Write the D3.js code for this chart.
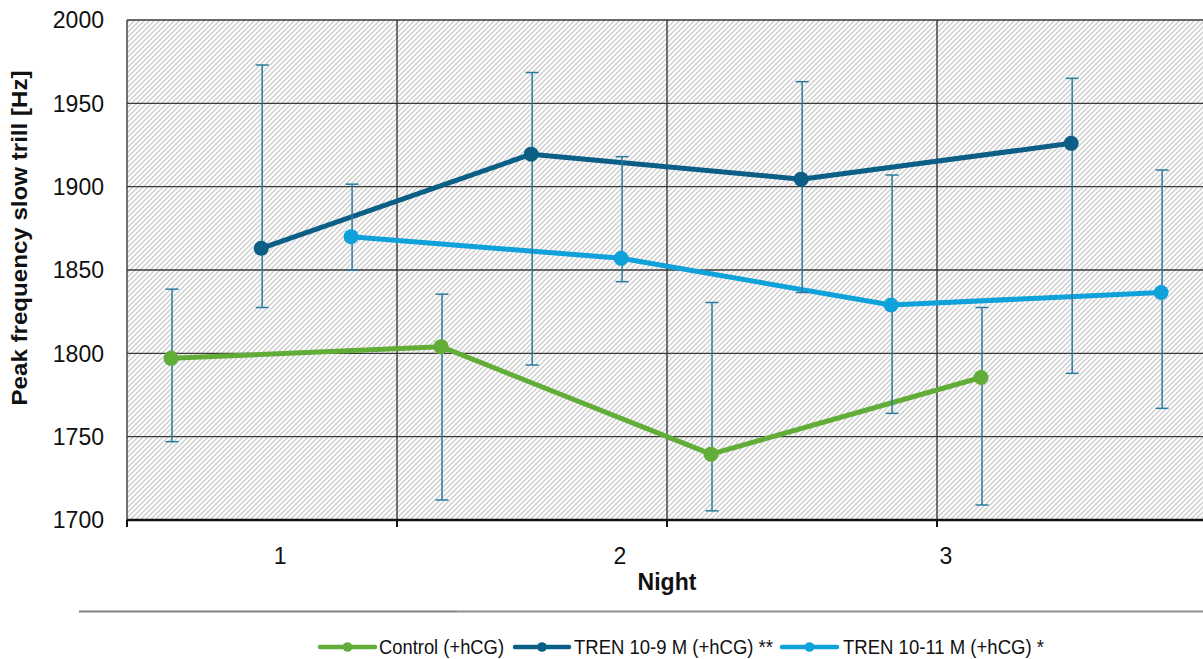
<!DOCTYPE html>
<html>
<head>
<meta charset="utf-8">
<script src="https://cdn.jsdelivr.net/npm/d3@7"></script>
<style>
  html, body { margin: 0; padding: 0; background: #fff; }
  svg { display: block; }
  text { font-family: "Liberation Sans", Arial, sans-serif; fill: #111; }
</style>
</head>
<body>
<svg id="chart" width="1203" height="659"></svg>
<script>
// ---- data ----
const seriesNames = ["Control (+hCG)", "TREN 10-9 M (+hCG) **", "TREN 10-11 M (+hCG) *"];
const seriesColors = ["#62ad38", "#0b5e85", "#0ea1da"];
const nights = [1, 2, 3, 4];
// position of each series inside a night's slot (fraction of slot width)
const seriesSlot = [0.163, 0.497, 0.83];

const controlMean = [1797, 1804, 1739.5, 1785.5];
const controlHi   = [1838.5, 1835.5, 1830.5, 1827.5];
const controlLo   = [1747, 1712, 1705.5, 1709];

const tren9Mean = [1863, 1919.5, 1904.5, 1926];
const tren9Hi   = [1973, 1968.5, 1963, 1965];
const tren9Lo   = [1827.5, 1793, 1836.5, 1788];

const tren11Mean = [1870, 1857, 1829, 1836.5];
const tren11Hi   = [1901.5, 1918, 1907, 1910];
const tren11Lo   = [1850, 1843, 1764, 1767];

const yTicks = [1700, 1750, 1800, 1850, 1900, 1950, 2000];
const xTickLabels = ["1", "2", "3"];
const xTickLabelPos = [0.567, 1.826, 3.033]; // in night-slot units
const xTitle = "Night";
const yTitle = "Peak frequency slow trill [Hz]";

// ---- build ----
const series = [
  { name: seriesNames[0], color: seriesColors[0], slot: seriesSlot[0], mean: controlMean, hi: controlHi, lo: controlLo },
  { name: seriesNames[1], color: seriesColors[1], slot: seriesSlot[1], mean: tren9Mean, hi: tren9Hi, lo: tren9Lo },
  { name: seriesNames[2], color: seriesColors[2], slot: seriesSlot[2], mean: tren11Mean, hi: tren11Hi, lo: tren11Lo }
];

const svg = d3.select("#chart");
const W = 1203, H = 659;
const plot = { left: 127, top: 20, right: 1207, bottom: 520 };

const x = d3.scaleLinear().domain([0, nights.length]).range([plot.left, plot.right]);
const y = d3.scaleLinear().domain([1700, 2000]).range([plot.bottom, plot.top]);

const defs = svg.append("defs");
const pat = defs.append("pattern")
  .attr("id", "hatch").attr("patternUnits", "userSpaceOnUse")
  .attr("width", 5).attr("height", 5);
pat.append("rect").attr("width", 5).attr("height", 5).attr("fill", "#fff");
pat.append("path")
  .attr("d", "M-1,1 L1,-1 M0,5 L5,0 M4,6 L6,4")
  .attr("stroke", "#cfcfcf").attr("stroke-width", 1.5);

svg.append("rect").attr("width", W).attr("height", H).attr("fill", "#fff");

// plot background
svg.append("rect")
  .attr("x", plot.left).attr("y", plot.top)
  .attr("width", plot.right - plot.left).attr("height", plot.bottom - plot.top)
  .attr("fill", "url(#hatch)");

// horizontal gridlines
svg.append("g").selectAll("line").data(yTicks.filter(v => v > 1700)).join("line")
  .attr("x1", plot.left).attr("x2", plot.right)
  .attr("y1", d => y(d)).attr("y2", d => y(d))
  .attr("stroke", "#3a3a3a").attr("stroke-width", 1.4);

// vertical gridlines
svg.append("g").selectAll("line").data(d3.range(0, nights.length)).join("line")
  .attr("x1", d => x(d)).attr("x2", d => x(d))
  .attr("y1", plot.top).attr("y2", plot.bottom)
  .attr("stroke", "#3a3a3a").attr("stroke-width", 1.4);

// x axis line + ticks
svg.append("line")
  .attr("x1", plot.left).attr("x2", plot.right)
  .attr("y1", plot.bottom).attr("y2", plot.bottom)
  .attr("stroke", "#111").attr("stroke-width", 2.6);
svg.append("g").selectAll("line").data(d3.range(0, nights.length)).join("line")
  .attr("x1", d => x(d)).attr("x2", d => x(d))
  .attr("y1", plot.bottom).attr("y2", plot.bottom + 7)
  .attr("stroke", "#111").attr("stroke-width", 2);

// y tick labels
svg.append("g").selectAll("text").data(yTicks).join("text")
  .attr("x", 104).attr("y", d => y(d)).attr("dy", "0.36em")
  .attr("text-anchor", "end").attr("font-size", 23)
  .text(d => d);

// x tick labels
svg.append("g").selectAll("text").data(xTickLabels).join("text")
  .attr("x", (d, i) => x(xTickLabelPos[i])).attr("y", 564)
  .attr("text-anchor", "middle").attr("font-size", 23)
  .text(d => d);

// axis titles
svg.append("text")
  .attr("x", 667).attr("y", 590)
  .attr("text-anchor", "middle").attr("font-size", 23).attr("font-weight", "bold")
  .text(xTitle);

svg.append("text")
  .attr("transform", "translate(27,238) rotate(-90)")
  .attr("text-anchor", "middle").attr("font-size", 22).attr("font-weight", "bold")
  .attr("textLength", 335).attr("lengthAdjust", "spacingAndGlyphs")
  .text(yTitle);

// series lines
const px = (s, i) => x(i + s.slot);
const lineGen = d3.line();
series.forEach(s => {
  svg.append("path")
    .attr("d", lineGen(s.mean.map((v, i) => [px(s, i), y(v)])))
    .attr("fill", "none").attr("stroke", s.color).attr("stroke-width", 5)
    .attr("stroke-linejoin", "round");
});

// error bars
const errColor = "#2a7b9e";
series.forEach(s => {
  const g = svg.append("g").attr("stroke", errColor).attr("stroke-width", 1.5);
  s.mean.forEach((v, i) => {
    const cx = px(s, i) + 1;
    g.append("line").attr("x1", cx).attr("x2", cx).attr("y1", y(s.hi[i])).attr("y2", y(s.lo[i]));
    g.append("line").attr("x1", cx - 6.5).attr("x2", cx + 6.5).attr("y1", y(s.hi[i])).attr("y2", y(s.hi[i]));
    g.append("line").attr("x1", cx - 6.5).attr("x2", cx + 6.5).attr("y1", y(s.lo[i])).attr("y2", y(s.lo[i]));
  });
});

// markers
series.forEach(s => {
  svg.append("g").selectAll("circle").data(s.mean).join("circle")
    .attr("cx", (d, i) => px(s, i)).attr("cy", d => y(d))
    .attr("r", 7.5).attr("fill", s.color);
});

// separator line
svg.append("line").attr("x1", 79).attr("x2", 457).attr("y1", 611.5).attr("y2", 611.5)
  .attr("stroke", "#808080").attr("stroke-width", 2);
svg.append("line").attr("x1", 457).attr("x2", W).attr("y1", 611.5).attr("y2", 611.5)
  .attr("stroke", "#8f8f8f").attr("stroke-width", 2);

// legend
const legendItems = [
  { l1: 320, l2: 375, tx: 379, tw: 125 },
  { l1: 515, l2: 569, tx: 574, tw: 199 },
  { l1: 782, l2: 837, tx: 843, tw: 201 }
];
const ly = 647;
series.forEach((s, i) => {
  const it = legendItems[i];
  const g = svg.append("g");
  g.append("line").attr("x1", it.l1).attr("x2", it.l2).attr("y1", ly).attr("y2", ly)
    .attr("stroke", s.color).attr("stroke-width", 4.5).attr("stroke-linecap", "round");
  g.append("circle").attr("cx", (it.l1 + it.l2) / 2).attr("cy", ly).attr("r", 4.8).attr("fill", s.color);
  g.append("text").attr("x", it.tx).attr("y", ly + 7).attr("font-size", 19.5)
    .attr("fill", "#222")
    .attr("textLength", it.tw).attr("lengthAdjust", "spacingAndGlyphs")
    .text(s.name);
});
</script>
</body>
</html>
